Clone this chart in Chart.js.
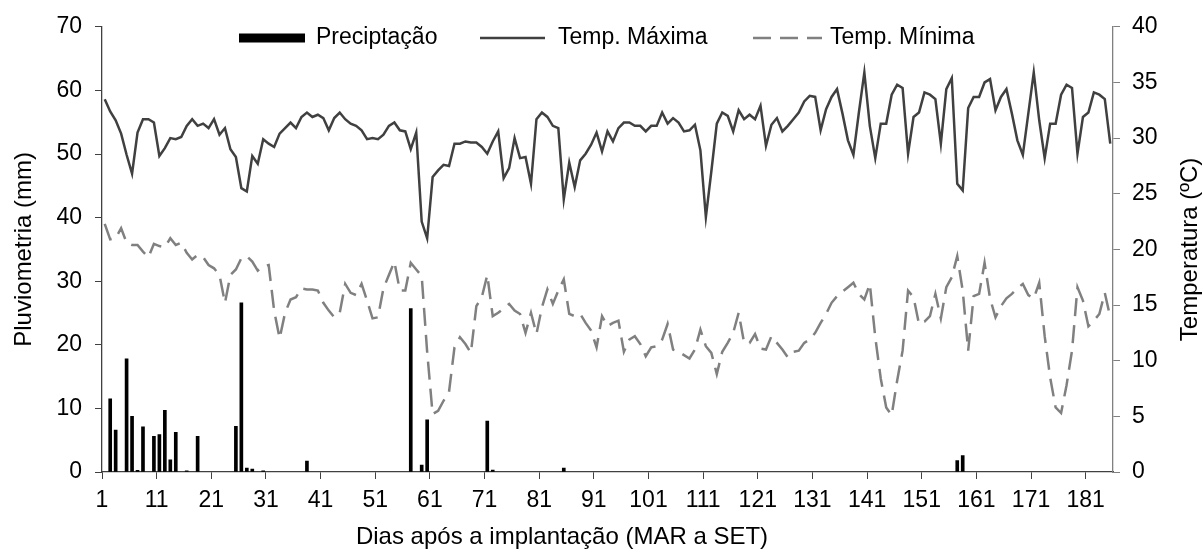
<!DOCTYPE html>
<html>
<head>
<meta charset="utf-8">
<script src="https://cdn.jsdelivr.net/npm/chart.js@4/dist/chart.umd.min.js"></script>
<style>
  html, body { margin: 0; padding: 0; background: #fff; }
</style>
</head>
<body>
<canvas id="clima" width="1203" height="555"></canvas>
<script>
// Temperatura máxima diária (ºC), dias 1..185
const tmax = [
  33.5, 32.4, 31.6, 30.4, 28.5, 26.8, 30.5, 31.7, 31.7, 31.4,
  28.4, 29.1, 30.0, 29.9, 30.1, 31.1, 31.7, 31.1, 31.3, 30.9,
  31.7, 30.3, 30.9, 29.0, 28.3, 25.5, 25.2, 28.4, 27.7, 29.9,
  29.5, 29.2, 30.4, 30.9, 31.4, 30.9, 31.9, 32.3, 31.9, 32.1,
  31.8, 30.7, 31.8, 32.3, 31.7, 31.3, 31.1, 30.7, 29.9, 30.0,
  29.9, 30.3, 31.1, 31.4, 30.7, 30.6, 29.0, 30.5, 22.5, 21.0,
  26.5, 27.1, 27.6, 27.5, 29.5, 29.5, 29.7, 29.6, 29.6, 29.2,
  28.6, 29.7, 30.6, 26.4, 27.3, 30.0, 28.2, 28.3, 25.9, 31.7,
  32.3, 31.9, 31.1, 30.9, 24.5, 27.8, 25.6, 28.0, 28.6, 29.4,
  30.5, 28.8, 30.6, 29.7, 30.9, 31.4, 31.4, 31.1, 31.1, 30.6,
  31.1, 31.1, 32.3, 31.3, 31.8, 31.4, 30.6, 30.7, 31.2, 28.9,
  22.9, 27.0, 31.3, 32.3, 32.0, 30.6, 32.5, 31.7, 32.1, 31.7,
  32.9, 29.3, 31.2, 31.8, 30.6, 31.1, 31.7, 32.3, 33.3, 33.8,
  33.7, 30.7, 32.6, 33.7, 34.4, 32.2, 29.8, 28.5, 32.3, 35.9,
  31.1, 28.2, 31.3, 31.3, 33.9, 34.8, 34.5, 28.6, 31.9, 32.3,
  34.1, 33.9, 33.5, 29.5, 34.4, 35.4, 25.9, 25.3, 32.7, 33.7,
  33.7, 35.0, 35.3, 32.5, 33.7, 34.4, 32.2, 29.8, 28.5, 32.2,
  35.9, 31.6, 28.2, 31.3, 31.3, 33.9, 34.8, 34.5, 28.6, 31.9,
  32.3, 34.1, 33.9, 33.5, 29.5
];

// Temperatura mínima diária (ºC), dias 1..185
const tmin = [
  22.3, 20.9, 21.0, 21.9, 20.6, 20.4, 20.4, 19.8, 19.3, 20.5,
  20.3, 20.2, 21.0, 20.4, 20.6, 19.7, 19.1, 19.5, 19.3, 18.6,
  18.3, 17.7, 15.2, 17.7, 18.2, 19.2, 19.4, 18.9, 18.1, 18.5,
  18.6, 14.5, 12.0, 14.3, 15.5, 15.7, 16.5, 16.4, 16.4, 16.3,
  15.2, 14.5, 13.9, 14.3, 16.9, 16.1, 15.9, 16.9, 15.4, 13.8,
  13.9, 16.5, 17.7, 18.9, 16.3, 16.3, 18.8, 18.2, 17.6, 10.8,
  5.2, 5.5, 6.4, 7.2, 11.2, 12.1, 11.5, 10.7, 14.9, 15.7,
  17.7, 14.0, 14.3, 14.7, 15.1, 14.5, 14.2, 12.5, 14.3, 12.4,
  14.8, 16.4, 15.1, 16.3, 17.3, 14.2, 14.0, 14.2, 13.4, 12.7,
  11.2, 14.0, 13.1, 13.4, 13.6, 10.8, 11.9, 12.2, 11.5, 10.4,
  11.2, 11.3, 11.9, 13.3, 11.0, 10.8, 10.5, 10.2, 11.0, 12.8,
  11.3, 10.7, 8.8, 10.8, 11.6, 12.5, 14.3, 11.6, 11.6, 12.4,
  11.1, 11.0, 12.2, 11.6, 11.0, 10.3, 10.8, 10.9, 11.6, 11.9,
  12.5, 13.4, 14.2, 15.2, 15.8, 16.2, 16.6, 17.0, 16.0, 15.5,
  16.9, 12.1, 8.4, 5.8, 5.1, 8.2, 10.9, 16.3, 15.7, 13.3,
  13.5, 14.0, 16.0, 13.8, 16.6, 17.5, 19.4, 16.3, 10.9, 15.8,
  16.0, 18.8, 15.6, 13.9, 14.9, 15.6, 16.0, 16.5, 16.9, 15.9,
  15.6, 17.0, 12.2, 8.5, 5.8, 5.3, 7.8, 10.9, 16.6, 15.4,
  13.1, 13.6, 14.2, 16.1, 13.9
];

// Dias com chuva e precipitação (mm)
const rainDays = [2, 3, 5, 6, 7, 8, 10, 11, 12, 13, 14, 16, 18, 25, 26, 27, 28, 30, 38, 57, 59, 60, 71, 72, 85, 157, 158];
const rainMm = [11.5, 6.6, 17.8, 8.75, 0.25, 7.1, 5.6, 5.9, 9.7, 1.9, 6.25, 0.2, 5.6, 7.2, 26.6, 0.6, 0.45, 0.2, 1.7, 25.7, 1.1, 8.2, 8.0, 0.3, 0.6, 1.8, 2.6];

const xTicks = [1, 11, 21, 31, 41, 51, 61, 71, 81, 91, 101, 111, 121, 131, 141, 151, 161, 171, 181];
const days = tmax.map((_, i) => i + 1);

const FONT = '"Liberation Sans", Arial, sans-serif';
const AXIS = '#404040';
const AXIS_R = '#808080';
Chart.defaults.font.family = FONT;
Chart.defaults.font.size = 23;
Chart.defaults.color = '#000';

// titles of the axes and the legend, drawn where the original has them
const extras = {
  id: 'extras',
  afterDraw(chart) {
    const { ctx, chartArea: a } = chart;
    const ds = chart.data.datasets;
    const midY = (a.top + a.bottom) / 2;
    ctx.save();
    ctx.fillStyle = '#000';
    ctx.font = '24px ' + FONT;
    ctx.textBaseline = 'middle';
    ctx.textAlign = 'center';
    ctx.fillText('Dias após a implantação (MAR a SET)', 562, 537);

    ctx.save();
    ctx.translate(24, midY);
    ctx.rotate(-Math.PI / 2);
    ctx.fillText('Pluviometria (mm)', 0, 0);
    ctx.restore();

    ctx.save();
    ctx.translate(1190, midY);
    ctx.rotate(-Math.PI / 2);
    ctx.fillText('Temperatura (ºC)', 0, 0);
    ctx.restore();

    // legend
    const ly = 38;
    ctx.font = '23px ' + FONT;
    ctx.textAlign = 'left';
    ctx.fillStyle = ds[0].backgroundColor;
    ctx.fillRect(239, ly - 4.5, 66, 9);
    ctx.fillStyle = '#000';
    ctx.fillText(ds[0].label, 316, ly);

    ctx.lineWidth = ds[1].borderWidth;
    ctx.strokeStyle = ds[1].borderColor;
    ctx.beginPath(); ctx.moveTo(480, ly); ctx.lineTo(545, ly); ctx.stroke();
    ctx.fillText(ds[1].label, 558, ly);

    ctx.lineWidth = ds[2].borderWidth;
    ctx.strokeStyle = ds[2].borderColor;
    ctx.setLineDash(ds[2].borderDash);
    ctx.beginPath(); ctx.moveTo(753, ly); ctx.lineTo(822, ly); ctx.stroke();
    ctx.setLineDash([]);
    ctx.fillText(ds[2].label, 830, ly);
    ctx.restore();
  }
};

new Chart(document.getElementById('clima'), {
  data: {
    labels: days,
    datasets: [
      {
        type: 'bar',
        label: 'Preciptação',
        data: rainDays.map((d, i) => ({ x: d, y: rainMm[i] })),
        yAxisID: 'yRain',
        backgroundColor: '#000',
        barThickness: 3,
        order: 3
      },
      {
        type: 'line',
        label: 'Temp. Máxima',
        data: tmax,
        yAxisID: 'yTemp',
        borderColor: '#404040',
        borderWidth: 2.5,
        pointRadius: 0,
        tension: 0,
        order: 1
      },
      {
        type: 'line',
        label: 'Temp. Mínima',
        data: tmin,
        yAxisID: 'yTemp',
        borderColor: '#808080',
        borderWidth: 2.5,
        borderDash: [18, 9],
        pointRadius: 0,
        tension: 0,
        order: 2
      }
    ]
  },
  options: {
    responsive: false,
    animation: false,
    events: [],
    layout: { padding: { top: 24 } },
    plugins: { legend: { display: false }, tooltip: { enabled: false } },
    scales: {
      x: {
        type: 'linear',
        offset: false,
        min: 0.5,
        max: days.length + 0.5,
        afterBuildTicks: s => { s.ticks = xTicks.map(v => ({ value: v - 0.5 })); },
        afterFit: s => { s.height = 83; },
        ticks: { callback: v => String(v + 0.5), autoSkip: false, maxRotation: 0, padding: 8 },
        grid: { offset: false, drawOnChartArea: false, tickLength: 7, color: AXIS },
        border: { color: AXIS, width: 1.3 }
      },
      yRain: {
        position: 'left',
        min: 0,
        max: 70,
        afterFit: s => { s.width = 102; },
        ticks: { stepSize: 10, padding: 13 },
        grid: { drawOnChartArea: false, tickLength: 7, color: AXIS },
        border: { color: AXIS, width: 1.3 }
      },
      yTemp: {
        position: 'right',
        min: 0,
        max: 40,
        afterFit: s => { s.width = 90; },
        ticks: { stepSize: 5, padding: 12 },
        grid: { drawOnChartArea: false, tickLength: 7, color: AXIS_R },
        border: { color: AXIS_R, width: 1.3 }
      }
    }
  },
  plugins: [extras]
});
</script>
</body>
</html>
